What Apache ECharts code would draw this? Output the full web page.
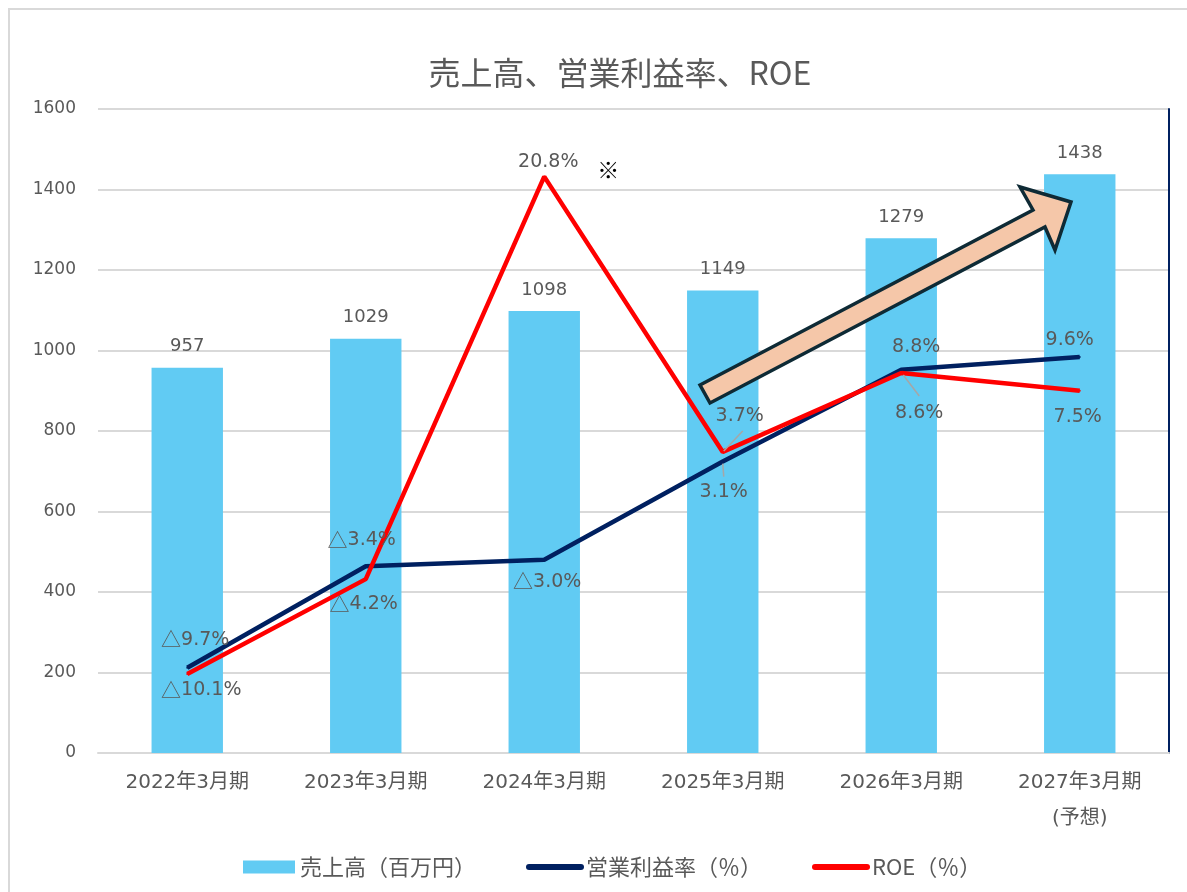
<!DOCTYPE html>
<html>
<head>
<meta charset="utf-8">
<title>売上高、営業利益率、ROE</title>
<style>
html, body { margin: 0; padding: 0; background: #fff; }
#main { width: 1187px; height: 892px; }
</style>
</head>
<body>
<div id="main"></div>
<script src="https://cdn.jsdelivr.net/npm/echarts@6/dist/echarts.min.js"></script>
<script>
// データ
var categories = ['2022年3月期', '2023年3月期', '2024年3月期', '2025年3月期', '2026年3月期', '2027年3月期\n(予想)'];
var sales = [957, 1029, 1098, 1149, 1279, 1438];
var opMargin = [-9.7, -3.4, -3.0, 3.1, 8.8, 9.6];
var roe = [-10.1, -4.2, 20.8, 3.7, 8.6, 7.5];
var salesTicks = [0, 200, 400, 600, 800, 1000, 1200, 1400, 1600];

// ラベル位置（点からのずれ）
var opOffsets = [[8, -28], [-4, -26], [3, 22], [1, 30], [15, -23], [-10, -17]];
var roeOffsets = [[14, 16], [-2, 25], [4, -15], [17, -36], [18, 40], [-2, 26]];

var FONT = "'DejaVu Sans', 'Noto Sans CJK JP', sans-serif";
var CJK = "'Noto Sans CJK JP', sans-serif";
var GREY = '#595959';

// マイナスは△表記
function pct(v) {
    return (v < 0 ? '{t|△}' + Math.abs(v).toFixed(1) : v.toFixed(1)) + '%';
}

function lineData(values, offsets) {
    return values.map(function (v, i) {
        return { value: v, label: { position: 'inside', offset: offsets[i] } };
    });
}

var lineLabel = {
    show: true, fontFamily: FONT, fontSize: 19, color: GREY,
    formatter: function (p) { return pct(p.value); },
    rich: { t: { fontFamily: CJK, fontSize: 20, color: GREY } }
};

var chart = echarts.init(document.getElementById('main'));

var option = {
    backgroundColor: '#fff',
    animation: false,
    title: {
        text: '売上高、営業利益率、ROE',
        left: 615,
        textAlign: 'center',
        top: 52,
        textStyle: { fontFamily: CJK, fontSize: 32, fontWeight: 'normal', color: GREY }
    },
    legend: {
        left: 238,
        top: 851,
        itemWidth: 52,
        itemHeight: 13,
        itemGap: 50,
        textStyle: { fontFamily: CJK, fontSize: 22, color: GREY },
        data: [
            { name: '売上高（百万円）', icon: 'rect' },
            { name: '営業利益率（％）', itemStyle: { opacity: 0 }, lineStyle: { width: 6, cap: 'round' } },
            { name: 'ROE（％）', itemStyle: { opacity: 0 }, lineStyle: { width: 6, cap: 'round' } }
        ]
    },
    grid: { left: 98, right: 18, top: 109, bottom: 139 },
    xAxis: {
        type: 'category',
        data: categories,
        axisLine: { lineStyle: { color: '#D9D9D9', width: 2 } },
        axisTick: { show: false },
        axisLabel: { fontFamily: FONT, fontSize: 20, color: GREY, margin: 12, lineHeight: 36 }
    },
    yAxis: [{
        type: 'value',
        min: salesTicks[0],
        max: salesTicks[salesTicks.length - 1],
        interval: 200,
        axisLine: { show: false },
        axisTick: { show: false },
        axisLabel: { fontFamily: FONT, fontSize: 17, color: GREY, margin: 22, formatter: function (v) { return String(v); } },
        splitLine: { lineStyle: { color: '#D9D9D9', width: 2 } }
    }, {
        type: 'value',
        min: -15,
        max: 25,
        interval: 5,
        position: 'right',
        axisLine: { show: true, lineStyle: { color: '#002060', width: 2 } },
        axisTick: { show: false },
        axisLabel: { show: false },
        splitLine: { show: false }
    }],
    series: [{
        name: '売上高（百万円）',
        type: 'bar',
        data: sales,
        barWidth: '40%',
        itemStyle: { color: '#61CBF3' },
        label: { show: true, position: 'top', distance: 12, fontFamily: FONT, fontSize: 18, color: GREY }
    }, {
        name: '営業利益率（％）',
        type: 'line',
        yAxisIndex: 1,
        data: lineData(opMargin, opOffsets),
        symbol: 'circle',
        symbolSize: 2,
        lineStyle: { color: '#002060', width: 4.5 },
        itemStyle: { color: '#002060' },
        label: lineLabel
    }, {
        name: 'ROE（％）',
        type: 'line',
        yAxisIndex: 1,
        data: lineData(roe, roeOffsets),
        symbol: 'circle',
        symbolSize: 2,
        lineStyle: { color: '#FF0000', width: 4.5 },
        itemStyle: { color: '#FF0000' },
        label: lineLabel
    }]
};
chart.setOption(option);

// 引き出し線・注記・矢印
function px(i, v) {
    return chart.convertToPixel({ xAxisIndex: 0, yAxisIndex: 1 }, [i, v]);
}
function leader(i, v, a, b) {
    var p = px(i, v);
    return {
        type: 'line', z: 50,
        shape: { x1: p[0] + a[0], y1: p[1] + a[1], x2: p[0] + b[0], y2: p[1] + b[1] },
        style: { stroke: '#A6A6A6', lineWidth: 1.5 }
    };
}
var peak = px(2, roe[2]);

chart.setOption({
    graphic: [
        {
            type: 'rect', z: -10,
            shape: { x: 9, y: 9, width: 1200, height: 900 },
            style: { fill: 'none', stroke: '#D9D9D9', lineWidth: 2 }
        },
        leader(3, opMargin[3], [0, 2], [1, 15]),
        leader(3, roe[3], [1, -1], [20, -21]),
        leader(4, roe[4], [2, 2], [18, 23]),
        {
            type: 'text', z: 50,
            x: peak[0] + 64, y: peak[1] - 7,
            style: { text: '※', fontSize: 22, fill: '#000', align: 'center', verticalAlign: 'middle', fontFamily: CJK }
        },
        {
            type: 'polygon', z: 60,
            shape: { points: [[700, 385], [1033, 210], [1020, 187], [1071, 202], [1055, 250], [1045, 227], [710, 403]] },
            style: { fill: '#F5C7A9', stroke: '#0E2A35', lineWidth: 3.5, lineJoin: 'miter' }
        }
    ]
});
</script>
</body>
</html>
